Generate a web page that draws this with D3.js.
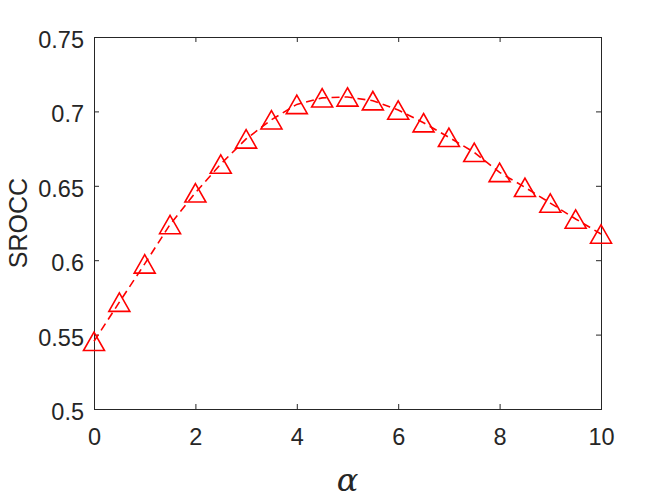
<!DOCTYPE html>
<html>
<head>
<meta charset="utf-8">
<script src="https://cdn.jsdelivr.net/npm/d3@7"></script>
<style>
  html, body { margin: 0; padding: 0; background: #fff; }
  svg { display: block; }
  .tick-label { font-family: 'Liberation Sans', Arial, sans-serif; font-size: 23.5px; fill: #262626; }
</style>
</head>
<body>
<div id="chart"></div>
<script>
'use strict';

// data
const alphaValues = [0, 0.5, 1, 1.5, 2, 2.5, 3, 3.5, 4, 4.5, 5, 5.5, 6, 6.5, 7, 7.5, 8, 8.5, 9, 9.5, 10];
const srocc = [0.5455, 0.5718, 0.5975, 0.6240, 0.6453, 0.6646, 0.6815, 0.6944, 0.7047, 0.7091,
    0.7097, 0.7072, 0.7009, 0.6924, 0.6826, 0.6725, 0.6590, 0.6490, 0.6384, 0.6277, 0.6176];
const xTicks = [0, 2, 4, 6, 8, 10];
const yTicks = [0.5, 0.55, 0.6, 0.65, 0.7, 0.75];

let width = 664,
    height = 498,
    margin = {
        top: 37,
        right: 63,
        bottom: 89,
        left: 94
    };

let w = width - margin.left - margin.right;
let h = height - margin.top - margin.bottom;

let svg = d3.select('#chart')
    .append('svg')
    .attr('width', width)
    .attr('height', height);

let g = svg.append('g')
    .attr('transform', 'translate(' + margin.left + ',' + margin.top + ')');

// scales
let x = d3.scaleLinear().domain([0, 10]).range([0, w]);
let y = d3.scaleLinear().domain([0.5, 0.75]).range([h, 0]);

let axisColor = '#262626';
let tickLen = 5;

// axes, ticks pointing inward (box on)
let xAxis = d3.axisBottom(x).tickValues(xTicks).tickSizeInner(-tickLen).tickSizeOuter(0).tickPadding(19);
let yAxis = d3.axisLeft(y).tickValues(yTicks).tickSizeInner(-tickLen).tickSizeOuter(0).tickPadding(10)
    .tickFormat(d => String(+d.toFixed(2)));
let xAxisTop = d3.axisTop(x).tickValues(xTicks).tickSizeInner(-tickLen).tickSizeOuter(0).tickFormat('');
let yAxisRight = d3.axisRight(y).tickValues(yTicks).tickSizeInner(-tickLen).tickSizeOuter(0).tickFormat('');

function styleAxis(sel) {
    sel.selectAll('.domain').remove();
    sel.selectAll('line').attr('stroke', axisColor).attr('stroke-width', 1);
    sel.selectAll('text').attr('class', 'tick-label').attr('font-size', null).attr('font-family', null);
}

let gX = g.append('g')
    .attr('transform', 'translate(0,' + h + ')')
    .call(xAxis)
    .call(styleAxis);
gX.selectAll('text').attr('dy', null).attr('y', 36);

let gY = g.append('g')
    .call(yAxis)
    .call(styleAxis);
gY.selectAll('text').attr('dy', null).attr('y', 10.5);

g.append('g').call(xAxisTop).call(styleAxis);
g.append('g').attr('transform', 'translate(' + w + ',0)').call(yAxisRight).call(styleAxis);

// box
g.append('rect')
    .attr('x', 0)
    .attr('y', 0)
    .attr('width', w)
    .attr('height', h)
    .attr('fill', 'none')
    .attr('stroke', axisColor)
    .attr('stroke-width', 1)
    .attr('shape-rendering', 'crispEdges');

// dashed line
let line = d3.line()
    .x((d, i) => x(alphaValues[i]))
    .y(d => y(d));

g.append('path')
    .datum(srocc)
    .attr('d', line)
    .attr('fill', 'none')
    .attr('stroke', '#ff0000')
    .attr('stroke-width', 1.6)
    .attr('stroke-dasharray', '8,5');

// triangle markers
let tw = 10.5, th = 9.2;
g.selectAll('path.marker')
    .data(srocc)
    .enter().append('path')
    .attr('class', 'marker')
    .attr('d', 'M0,' + (-th) + 'L' + tw + ',' + th + 'L' + (-tw) + ',' + th + 'Z')
    .attr('transform', (d, i) => 'translate(' + x(alphaValues[i]) + ',' + y(d) + ')')
    .attr('fill', 'none')
    .attr('stroke', '#ff0000')
    .attr('stroke-width', 1.6)
    .attr('stroke-linejoin', 'miter');

// axis labels
svg.append('text')
    .attr('transform', 'translate(27,' + (margin.top + h / 2) + ') rotate(-90)')
    .attr('text-anchor', 'middle')
    .attr('font-family', "'Liberation Sans', Arial, sans-serif")
    .attr('font-size', 25)
    .attr('fill', axisColor)
    .text('SROCC');

svg.append('text')
    .attr('x', margin.left + w / 2)
    .attr('y', 491)
    .attr('text-anchor', 'middle')
    .attr('font-family', "'DejaVu Serif', serif")
    .attr('font-style', 'italic')
    .attr('font-size', 32)
    .attr('fill', axisColor)
    .text('α');
</script>
</body>
</html>
